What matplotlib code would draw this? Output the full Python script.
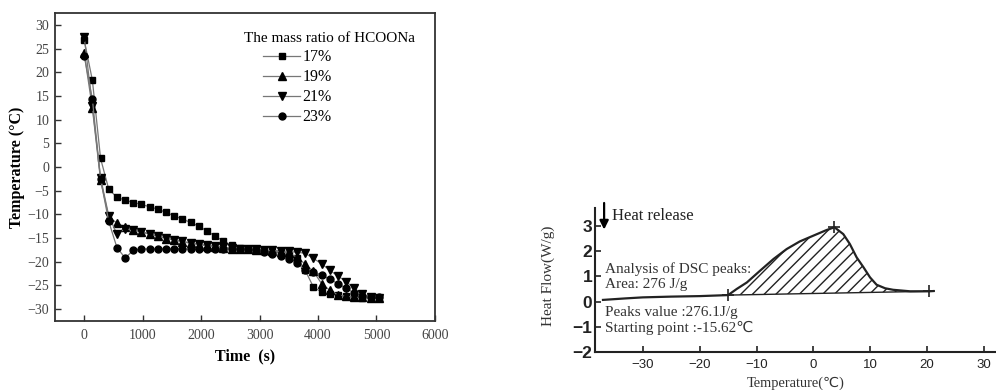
import matplotlib
matplotlib.use("Agg")
import matplotlib.pyplot as plt
import numpy as np
from matplotlib.patches import Polygon

# ---- left panel: cooling curves ----
time_s = np.arange(0, 5041, 140)

temp_17 = [26.8, 18.3, 1.8, -4.7, -6.4, -7.0, -7.5, -7.9, -8.4, -8.9, -9.6, -10.3,
           -11.0, -11.7, -12.5, -13.5, -14.6, -15.6, -16.5, -17.0, -17.3, -17.5,
           -17.7, -17.9, -18.2, -18.6, -19.3, -21.8, -25.3, -26.4, -26.8, -27.1,
           -27.3, -27.5, -27.6, -27.7, -27.7]
temp_19 = [24.0, 12.4, -2.8, -10.6, -11.8, -12.7, -13.3, -13.7, -14.2, -14.6, -15.1,
           -15.4, -15.8, -16.1, -16.4, -16.6, -16.8, -17.0, -17.2, -17.3, -17.4,
           -17.5, -17.6, -17.7, -17.9, -18.2, -19.0, -20.5, -22.0, -24.6, -26.0,
           -27.0, -27.3, -27.5, -27.5, -27.6, -27.6]
temp_21 = [27.5, 12.8, -2.3, -10.3, -14.2, -13.0, -13.3, -13.7, -14.1, -14.6, -15.0,
           -15.4, -15.7, -16.0, -16.3, -16.5, -16.7, -16.9, -17.1, -17.2, -17.3,
           -17.4, -17.5, -17.6, -17.7, -17.8, -18.0, -18.2, -19.3, -20.4, -21.8,
           -23.0, -24.2, -25.6, -26.8, -27.4, -27.6]
temp_23 = [23.5, 14.3, -2.6, -11.5, -17.0, -19.2, -17.6, -17.3, -17.3, -17.3, -17.3,
           -17.3, -17.3, -17.3, -17.3, -17.3, -17.3, -17.3, -17.3, -17.3, -17.4,
           -17.6, -17.9, -18.3, -18.8, -19.5, -20.3, -21.8, -22.1, -22.8, -23.7,
           -24.6, -25.6, -26.6, -27.2, -27.4, -27.5]
series_labels = ["17%", "19%", "21%", "23%"]
series_markers = ["s", "^", "v", "o"]

# ---- right panel: DSC curve ----
dsc_temp = [-37.0, -33.0, -30.0, -25.0, -20.0, -15.0, -13.5, -11.7, -9.4, -7.0,
            -4.7, -2.4, 0.0, 2.3, 3.7, 5.25, 6.4, 7.6, 8.8, 9.95, 11.1, 12.6,
            14.0, 17.0, 20.4, 21.1]
dsc_flow = [0.07, 0.13, 0.17, 0.20, 0.22, 0.26, 0.50, 0.76, 1.22, 1.69,
            2.08, 2.38, 2.61, 2.83, 2.94, 2.67, 2.28, 1.75, 1.36, 0.96, 0.67, 0.53,
            0.47, 0.41, 0.41, 0.42]
peak_marks_t = [-15.0, 3.7, 20.4]
peak_marks_hf = [0.26, 2.94, 0.41]

serif = ["Liberation Serif", "DejaVu Serif"]
plt.rcParams["font.family"] = serif

fig = plt.figure(figsize=(9.96, 3.9), dpi=100)

# left axes
ax = fig.add_axes([0.0552, 0.1769, 0.3815, 0.7898])
for temps, lab, mk in zip([temp_17, temp_19, temp_21, temp_23], series_labels, series_markers):
    ms = 5.5 if mk in ("^", "v") else 5
    ax.plot(time_s, temps, color="#777777", lw=0.9, marker=mk, ms=ms,
            mfc="black", mec="black", label=lab)

ax.set_xlim(-500, 6000)
ax.set_ylim(-32.5, 32.5)
ax.set_xticks(np.arange(0, 6001, 1000))
ax.set_yticks(np.arange(-30, 31, 5))
ax.tick_params(direction="in", length=4.5, width=1, colors="#333333",
               labelcolor="#444444", labelsize=10)
ax.tick_params(axis="x", pad=6)
ax.tick_params(axis="y", pad=4)
for sp in ax.spines.values():
    sp.set_linewidth(1.3)
    sp.set_color("#333333")

ax.set_xlabel("Time  (s)", fontsize=11.5, fontweight="bold")
ax.xaxis.set_label_coords(0.5, -0.088)
ax.set_ylabel("Temperature (°C)", fontsize=11.5, fontweight="bold")
ax.yaxis.set_label_coords(-0.079, 0.5)

ax.text(0.7237, 0.918, "The mass ratio of HCOONa", transform=ax.transAxes,
        ha="center", va="center", fontsize=11)
ax.legend(loc="upper left", bbox_to_anchor=(0.548, 0.882), frameon=False,
          fontsize=11.5, handlelength=2.3, handletextpad=0.15,
          labelspacing=0.25, borderpad=0, borderaxespad=0)

# right axes
ax2 = fig.add_axes([0.5974, 0.0967, 0.4026, 0.3692])
ax2.set_xlim(-38.4, 32.1)
ax2.set_ylim(-2, 3.69)
ax2.spines["top"].set_visible(False)
ax2.spines["right"].set_visible(False)
for s in ["left", "bottom"]:
    ax2.spines[s].set_linewidth(1.5)
    ax2.spines[s].set_color("#222222")

ax2.plot(dsc_temp, dsc_flow, color="#222222", lw=1.6)
ax2.plot(peak_marks_t, peak_marks_hf, ls="none", marker="+", ms=9, mew=1.2, color="#222222")

# hatched peak area between curve and straight baseline
t_arr = np.array(dsc_temp)
hf_arr = np.array(dsc_flow)
sel = (t_arr >= peak_marks_t[0]) & (t_arr <= peak_marks_t[2])
xs = t_arr[sel]
ys = hf_arr[sel]
base = np.interp(xs, [peak_marks_t[0], peak_marks_t[2]], [peak_marks_hf[0], peak_marks_hf[2]])
ax2.plot(xs, base, color="#222222", lw=1.0)
poly = Polygon(np.column_stack([np.r_[xs, xs[::-1]], np.r_[ys, base[::-1]]]),
               closed=True, facecolor="none", edgecolor="none")
ax2.add_patch(poly)
p0 = ax2.transData.transform((0, 0))
p1 = ax2.transData.transform((1, 1))
sx, sy = p1[0] - p0[0], p1[1] - p0[1]
step = 11.7 / sx
span = 6 * sy / sx
for c in np.arange(-60, 30, step):
    ln, = ax2.plot([c, c + span], [-2, 4], color="#222222", lw=1.0)
    ln.set_clip_path(poly)

ax2.set_xticks(np.arange(-30, 31, 10))
ax2.set_yticks(np.arange(-2, 4, 1))
ax2.tick_params(direction="in", length=4, width=1.2, colors="#222222")
ax2.tick_params(axis="x", labelsize=9.5, pad=5)
ax2.tick_params(axis="y", labelsize=12.5, pad=2)
for lbl in ax2.get_xticklabels():
    lbl.set_family(["Liberation Sans", "DejaVu Sans"])
for lbl in ax2.get_yticklabels():
    lbl.set_family(["Liberation Sans", "DejaVu Sans"])
    lbl.set_fontweight("bold")

ax2.set_xlabel("Temperature(℃)", fontsize=10.4, color="#333333",
               family=["Liberation Serif", "DejaVu Sans"])
ax2.xaxis.set_label_coords(0.5, -0.17)
ax2.set_ylabel("Heat Flow(W/g)", fontsize=11, color="#333333")
ax2.yaxis.set_label_coords(-0.1, 0.53)

ax2.annotate("", xy=(-36.8, 2.85), xytext=(-36.8, 3.9), annotation_clip=False,
             arrowprops=dict(arrowstyle="-|>", color="black", lw=1.6,
                             mutation_scale=13, shrinkA=0, shrinkB=0))
ax2.text(-35.4, 3.4, "Heat release", fontsize=12, color="#222222", va="center")
ax2.text(-36.6, 1.29, "Analysis of DSC peaks:", fontsize=11, color="#333333", va="center")
ax2.text(-36.6, 0.67, "Area: 276 J/g", fontsize=11, color="#333333", va="center")
ax2.text(-36.6, -0.42, "Peaks value :276.1J/g", fontsize=11, color="#333333", va="center")
ax2.text(-36.6, -1.02, "Starting point :-15.62℃", fontsize=11, color="#333333", va="center",
         family=["Liberation Serif", "DejaVu Sans"])

fig.savefig("out.png", dpi=100)
